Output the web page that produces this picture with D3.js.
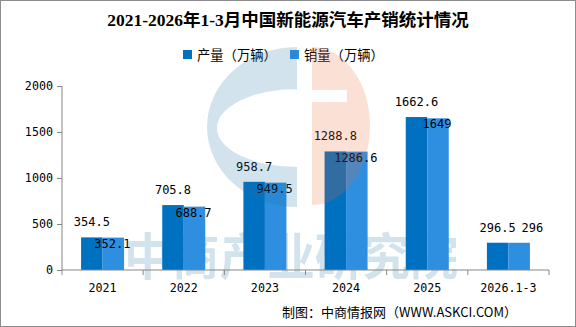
<!DOCTYPE html>
<html><head><meta charset="utf-8">
<script src="https://cdn.jsdelivr.net/npm/d3@7"></script>
<style>
html,body{margin:0;padding:0;background:#fff;}
svg{display:block;}
</style></head>
<body>
<svg id="c" width="576" height="327"></svg>
<script>
const title = "2021-2026年1-3月中国新能源汽车产销统计情况";
const categories = ["2021","2022","2023","2024","2025","2026.1-3"];
const seriesNames = ["产量（万辆）","销量（万辆）"];
const production = [354.5, 705.8, 958.7, 1288.8, 1662.6, 296.5];
const sales = [352.1, 688.7, 949.5, 1286.6, 1649, 296];
const yTicks = [0, 500, 1000, 1500, 2000];
const sourceText = "制图：中商情报网（WWW.ASKCI.COM）";
const watermarkText = "中商产业研究院";

(function(){
const colors = ["#0070C0", "#2E8FE0"];
const svg = d3.select("#c");
const W = 576, H = 327;
const pLeft = 62, pRight = 549, pTop = 86, pBottom = 270;
const monoFont = "'DejaVu Sans Mono', monospace";
const cjkFont = "'Noto Sans CJK SC', sans-serif";

svg.append("rect").attr("x",0.5).attr("y",0.5).attr("width",W-1).attr("height",H-1)
  .attr("fill","#fff").attr("stroke","#8c8c8c").attr("stroke-width",1);

// watermark text (behind bars)
svg.append("text").attr("x", 291).attr("y", 275).attr("text-anchor","middle")
  .attr("font-family", cjkFont).attr("font-weight", 700).attr("font-size", 50)
  .attr("textLength", 334).attr("lengthAdjust","spacingAndGlyphs")
  .attr("fill","rgb(30,115,170)").attr("fill-opacity",0.2).text(watermarkText);

// title
svg.append("text").attr("x", 288).attr("y", 26).attr("text-anchor","middle")
  .attr("font-family", "'Liberation Serif', 'Noto Sans CJK SC', serif")
  .attr("font-weight","bold").attr("font-size", 17.5).attr("fill","#000").text(title);

// legend
const legend = svg.append("g");
const legX = [183, 290];
seriesNames.forEach((n,i)=>{
  legend.append("rect").attr("x", legX[i]).attr("y", 50).attr("width", 9).attr("height", 9).attr("fill", colors[i]);
  legend.append("text").attr("x", legX[i]+14).attr("y", 59.5).attr("font-family", cjkFont)
    .attr("font-size", 13.3).attr("fill","#000").text(n);
});

const x0 = d3.scaleBand().domain(categories).range([pLeft, pRight]).paddingInner(0).paddingOuter(0);
const groupW = x0.bandwidth()*0.53;
const x1 = d3.scaleBand().domain([0,1]).range([0, groupW]);
const y = d3.scaleLinear().domain([0, 2000]).range([pBottom, pTop]);

// bars
const data = categories.map((c,i)=>({c, v:[production[i], sales[i]]}));
const gb = svg.append("g");
data.forEach(d=>{
  const gx = x0(d.c) + (x0.bandwidth()-groupW)/2;
  d.v.forEach((v,k)=>{
    gb.append("rect").attr("x", gx + x1(k)).attr("y", y(v))
      .attr("width", x1.bandwidth()).attr("height", y(0)-y(v)).attr("fill", colors[k]);
  });
});

// axes
const axisColor = "#868686";
const yAxis = svg.append("g").attr("transform", `translate(${pLeft},0)`)
  .call(d3.axisLeft(y).tickValues(yTicks).tickSize(5).tickPadding(4).tickFormat(d3.format("d")));
yAxis.select(".domain").attr("stroke", axisColor).attr("d", `M0,${pTop}V${pBottom}`);
yAxis.selectAll(".tick line").attr("stroke", axisColor);
yAxis.selectAll(".tick text").attr("font-family", monoFont).attr("font-size", 11.7).attr("fill","#000");

const xAxis = svg.append("g").attr("transform", `translate(0,${pBottom})`)
  .call(d3.axisBottom(x0).tickSize(0).tickPadding(14));
xAxis.select(".domain").attr("stroke", axisColor).attr("d", `M${pLeft},0H${pRight}`);
xAxis.selectAll(".tick text").attr("font-family", monoFont).attr("font-size", 11.7).attr("fill","#000");
const bounds = categories.map(c=>x0(c)).concat([pRight]);
xAxis.selectAll(".bt").data(bounds).enter().append("line")
  .attr("x1", d=>d).attr("x2", d=>d).attr("y1",0).attr("y2",5).attr("stroke", axisColor);

// data labels
const charW = 7.2;
const gl = svg.append("g").attr("font-family", monoFont).attr("font-size", 12).attr("fill","#000").attr("text-anchor","middle");
data.forEach(d=>{
  const gx = x0(d.c) + (x0.bandwidth()-groupW)/2;
  const pcx = gx + x1(0) + x1.bandwidth()/2;
  const scx = gx + x1(1) + x1.bandwidth()/2;
  const pt = String(d.v[0]), st = String(d.v[1]);
  const pBase = y(d.v[0]) - 11;
  gl.append("text").attr("x", pcx).attr("y", pBase).text(pt);
  const pr = pcx + pt.length*charW/2;
  const sl = scx - st.length*charW/2;
  const need = pr + 2 - sl;
  let sx = scx, sy = y(d.v[1]) - 11;
  if (need > 0) {
    if (need <= 12) { sx = scx + need + 4; sy = pBase; }
    else { sx = scx - 1; sy = y(d.v[1]) + 10; }
  }
  gl.append("text").attr("x", sx).attr("y", sy).text(st);
});

// source
svg.append("text").attr("x", 517).attr("y", 317).attr("text-anchor","end")
  .attr("font-family", cjkFont).attr("font-size", 13).attr("fill","#000").text(sourceText);

// logo watermark overlay
const wm = svg.append("g").attr("pointer-events","none");
wm.append("path")
  .attr("d", "M297,47 A90,80 0 0 0 297,207 Z M297,89 A80,39 0 0 0 297,167 Z")
  .attr("fill-rule","evenodd").attr("fill","rgb(30,115,170)").attr("fill-opacity",0.2);
wm.append("path")
  .attr("d", "M312,47 A58,79 0 0 1 312,205 Z M312,90 H347 V102 H312 Z")
  .attr("fill-rule","evenodd").attr("fill","rgb(235,100,45)").attr("fill-opacity",0.2);
})();
</script>
</body></html>
